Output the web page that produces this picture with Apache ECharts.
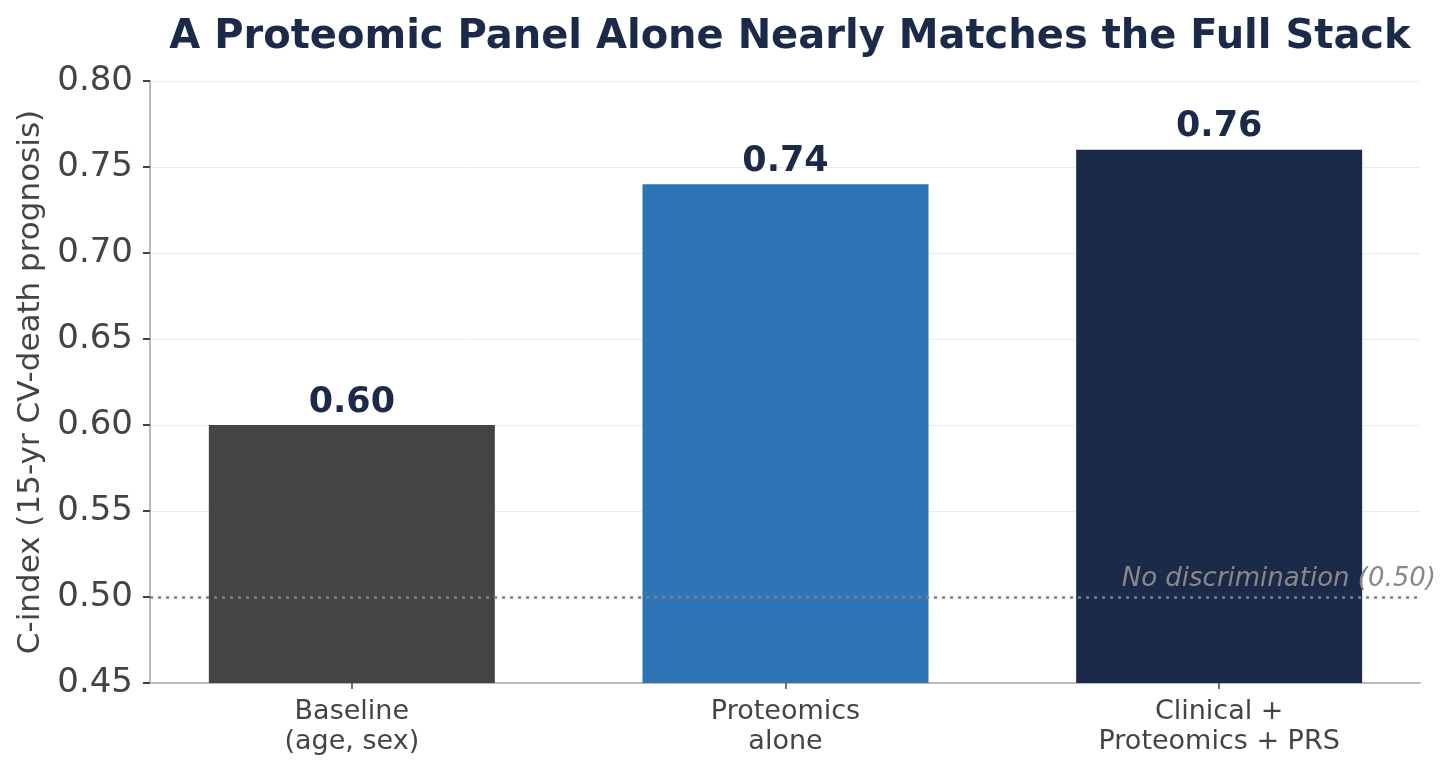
<!DOCTYPE html>
<html><head><meta charset="utf-8">
<script src="https://cdn.jsdelivr.net/npm/echarts@6/dist/echarts.min.js"></script>
<style>html,body{margin:0;padding:0;background:#fff}#c{width:1453px;height:773px}</style>
</head><body><div id="c"></div>
<script>
const categories = ['Baseline\n(age, sex)', 'Proteomics\nalone', 'Clinical +\nProteomics + PRS'];
const values = [0.60, 0.74, 0.76];
const barColors = ['#444444', '#2e75b6', '#1c2a4a'];
const refValue = 0.50;
const refLabel = 'No discrimination (0.50)';
const yTicks = { min: 0.45, max: 0.80, interval: 0.05 };

const chart = echarts.init(document.getElementById('c'));
const F = 'DejaVu Sans';
const yBase = { type: 'value', min: yTicks.min, max: yTicks.max, interval: yTicks.interval };
chart.setOption({
  animation: false,
  textStyle: { fontFamily: F },
  title: {
    text: 'A Proteomic Panel Alone Nearly Matches the Full Stack',
    left: 785, top: 13, textAlign: 'center',
    textStyle: { fontFamily: F, fontSize: 40, fontWeight: 'bold', color: '#1c2a4a' }
  },
  grid: [
    { left: 150, right: 33, top: 81, bottom: 90 },
    { left: 135, right: 17, top: 81, bottom: 90 }
  ],
  xAxis: [
    {
      gridIndex: 0, type: 'category', data: categories,
      axisLine: { lineStyle: { color: '#bbbbbb', width: 2 } },
      axisTick: { show: false }, axisLabel: { show: false }
    },
    {
      gridIndex: 1, type: 'category', data: categories,
      axisLine: { show: false },
      axisTick: { show: true, alignWithLabel: true, length: 6, lineStyle: { color: '#444', width: 1.5 } },
      axisLabel: { fontFamily: F, fontSize: 27, color: '#444', lineHeight: 30, margin: 14 }
    }
  ],
  yAxis: [
    Object.assign({}, yBase, {
      gridIndex: 0,
      name: 'C-index (15-yr CV-death prognosis)', nameLocation: 'middle', nameGap: 104,
      nameTextStyle: { fontFamily: F, fontSize: 31, color: '#444' },
      axisLine: { show: true, lineStyle: { color: '#bbbbbb', width: 2 } },
      axisTick: { show: true, length: 7, lineStyle: { color: '#444', width: 2 } },
      axisLabel: { fontFamily: F, fontSize: 34, color: '#444', margin: 17,
        formatter: v => v.toFixed(2) },
      splitLine: { lineStyle: { color: '#ebebeb', width: 1 } }
    }),
    Object.assign({}, yBase, {
      gridIndex: 1, show: false, splitLine: { show: false }
    })
  ],
  series: [
    {
      type: 'line', xAxisIndex: 0, yAxisIndex: 0, data: [], z: 1, silent: true,
      markLine: {
        symbol: 'none', silent: true,
        lineStyle: { color: '#808080', type: [3, 5], width: 2.5 },
        label: { show: false },
        data: [{ yAxis: refValue }]
      }
    },
    {
      type: 'bar', xAxisIndex: 1, yAxisIndex: 1, z: 3, barWidth: 286,
      data: values.map((v, i) => ({ value: v, itemStyle: { color: barColors[i] } })),
      label: { show: true, position: 'top', distance: 5, fontFamily: F, fontSize: 35,
        fontWeight: 'bold', color: '#1c2a4a', formatter: p => p.value.toFixed(2) }
    }
  ],
  graphic: [{
    type: 'text', right: 17, top: 566, z: 10,
    style: { text: refLabel, fontFamily: F, fontSize: 26, fontStyle: 'italic', fill: '#888' }
  }]
});
</script></body></html>
